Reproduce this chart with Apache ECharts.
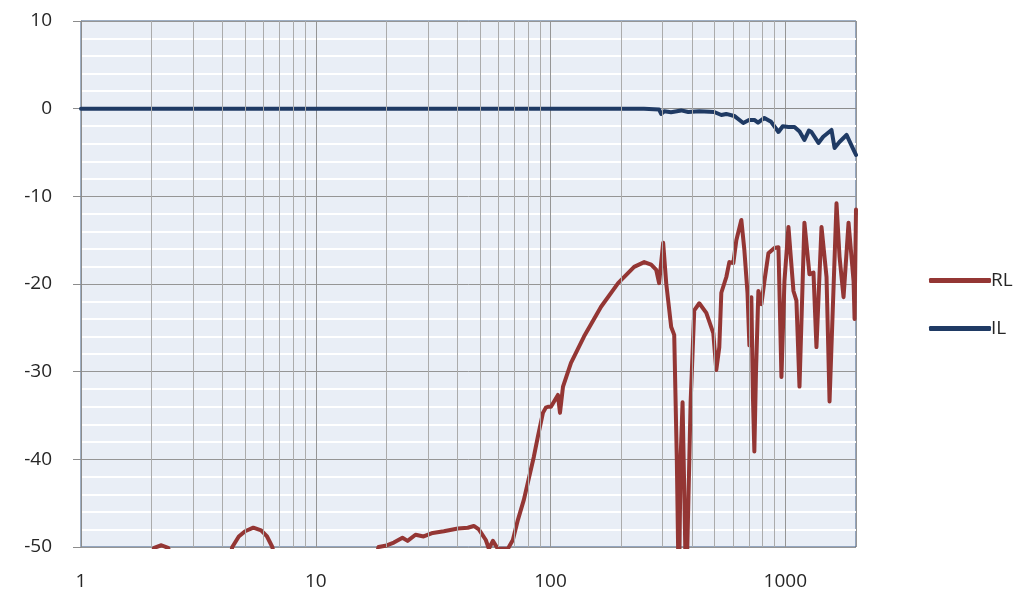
<!DOCTYPE html>
<html>
<head>
<meta charset="utf-8">
<script src="https://cdn.jsdelivr.net/npm/echarts@6/dist/echarts.min.js"></script>
<style>
html,body{margin:0;padding:0;background:#fff;}
#chart{width:1023px;height:598px;}
</style>
</head>
<body>
<div id="chart"></div>
<script>
// Frequency (Hz) and level (dB)
var rlFreq = [1, 1.7, 1.95, 2.05, 2.2, 2.35, 2.45, 2.8, 3.6, 4.1, 4.41, 4.7, 5.0, 5.42, 5.85, 6.2, 6.53, 7.0, 8.5, 14, 17.5,
  18.5, 19.8, 21.5, 23.4, 24.6, 26.6, 28.8, 31.5, 35.1, 40.3, 44.4, 47.1, 49.5, 53.0, 54.6, 56.8, 59.6, 65.8, 69.1, 72.6,
  77.0, 84.9, 88.3, 92.8, 95.5, 97.5, 100.4, 107.5, 109.7, 113, 122.2, 138.8, 164.1, 194, 227, 250.6, 268.3, 282, 290,
  301.8, 310.9, 326.5, 336.3, 345, 352, 358, 365, 372, 378, 384, 390, 395, 409.3, 430, 460.7, 493.4, 508.1, 523.3, 533.8,
  560.7, 577.5, 600.6, 618.5, 649.6, 669, 690, 703, 716.6, 728, 738, 750, 767.8, 790.7, 814.4, 847.2, 898.6, 934.8, 962.6,
  991.3, 1031, 1083, 1115, 1149, 1206, 1267, 1318, 1357, 1426, 1498, 1543, 1652, 1702, 1770, 1859, 1953, 1972, 2000];
var rlDb = [-60, -58, -51.5, -50.1, -49.8, -50.1, -51.5, -58, -60, -54, -50, -48.8, -48.2, -47.8, -48.1, -48.8, -50, -54, -60, -60, -53,
  -50, -49.86, -49.5, -48.95, -49.3, -48.6, -48.8, -48.4, -48.2, -47.9, -47.8, -47.6, -48.0, -49.2, -50.2, -49.3, -50.2, -50.2, -49.2, -46.9,
  -44.6, -39.7, -37.4, -34.7, -34.1, -34.0, -34.0, -32.65, -34.7, -31.7, -29.0, -26.0, -22.6, -19.9, -18.05, -17.5, -17.8, -18.4, -19.9,
  -15.3, -19.9, -24.9, -25.8, -40, -56, -40, -33.5, -45, -56, -56, -40, -33.5, -23.0, -22.2, -23.3, -25.6, -29.8, -27.2, -21.0,
  -19.2, -17.5, -17.6, -15.0, -12.7, -16.1, -21, -27, -21.5, -33, -39.1, -30, -20.8, -22.3, -19.7, -16.5, -15.9, -15.8, -30.6,
  -19.7, -13.5, -20.8, -21.9, -31.7, -13.0, -18.9, -18.7, -27.2, -13.5, -19.2, -33.4, -10.8, -16.9, -21.5, -13.0, -19.7, -24, -11.5];

var ilFreq = [1, 10, 100, 250, 290, 296, 305, 326, 360, 386, 430, 498, 534, 560, 606, 662, 700, 738, 765, 814, 870, 935, 975,
  1031, 1094, 1150, 1206, 1260, 1292, 1384, 1450, 1573, 1621, 1700, 1823, 1953, 2000];
var ilDb = [0, 0, 0, 0, -0.1, -0.6, -0.3, -0.4, -0.2, -0.38, -0.3, -0.38, -0.72, -0.6, -0.83, -1.63, -1.3, -1.29, -1.6, -1.06, -1.5, -2.66, -2.0,
  -2.09, -2.09, -2.6, -3.57, -2.5, -2.66, -3.91, -3.2, -2.43, -4.48, -3.8, -3.0, -4.71, -5.28];

// minor vertical grid lines of the log axis (2..9 in each decade)
var minorFreqs = [2, 3, 4, 5, 6, 7, 8, 9, 20, 30, 40, 50, 60, 70, 80, 90, 200, 300, 400, 500, 600, 700, 800, 900];
var xTickLabels = ['1', '10', '100', '1000'];
var seriesNames = ['RL', 'IL'];

function pairs(xs, ys) { return xs.map(function (x, i) { return [x, ys[i]]; }); }

var fontFam = '"Open Sans", "Noto Sans", sans-serif';
var chart = echarts.init(document.getElementById('chart'), null, { renderer: 'canvas' });
chart.setOption({
  animation: false,
  backgroundColor: '#ffffff',
  grid: {
    left: 81, right: 167, top: 21, bottom: 51,
    show: true, backgroundColor: '#E9EEF6', borderColor: '#3C5C86', borderWidth: 1
  },
  legend: {
    orient: 'vertical', left: 924, top: 266,
    itemWidth: 62, itemHeight: 5, itemGap: 29,
    data: seriesNames.map(function (n) { return { name: n, icon: 'roundRect' }; }),
    textStyle: { fontSize: 19, color: '#262626', fontFamily: fontFam, padding: [0, 0, 0, -5] }
  },
  xAxis: {
    type: 'log', logBase: 10, min: 1, max: 2000,
    axisLine: { show: true, lineStyle: { color: '#8C8C8C', width: 1 } },
    axisTick: { show: true, length: 10, lineStyle: { color: '#8C8C8C' } },
    axisLabel: {
      fontSize: 19, color: '#262626', fontFamily: fontFam, margin: 25, showMaxLabel: false,
      formatter: function (v) { var s = String(Math.round(v)); return xTickLabels.indexOf(s) >= 0 ? s : ''; }
    },
    splitLine: { show: true, lineStyle: { color: '#959595', width: 1 } },
    minorTick: { show: false }, minorSplitLine: { show: false }
  },
  yAxis: {
    type: 'value', min: -50, max: 10, interval: 10,
    axisLine: { show: true, lineStyle: { color: '#8C8C8C', width: 1 } },
    axisTick: { show: true, length: 8, lineStyle: { color: '#8C8C8C' } },
    axisLabel: { fontSize: 19, color: '#262626', fontFamily: fontFam, margin: 29 },
    splitLine: { show: true, lineStyle: { color: '#959595', width: 1 } },
    minorTick: { show: false, splitNumber: 5 },
    minorSplitLine: { show: true, lineStyle: { color: '#FFFFFF', width: 2 } }
  },
  series: [
    {
      name: '_grid', type: 'line', data: [], z: 1, silent: true,
      markLine: {
        silent: true, symbol: ['none', 'none'], label: { show: false },
        lineStyle: { color: '#ABABAB', width: 1, type: 'solid' },
        data: minorFreqs.map(function (f) { return { xAxis: f }; }),
        animation: false
      }
    },
    {
      name: 'RL', type: 'line', data: pairs(rlFreq, rlDb), showSymbol: false, symbol: 'none', z: 3,
      clip: true, color: '#943634',
      lineStyle: { color: '#943634', width: 4, join: 'round', cap: 'round' }
    },
    {
      name: 'IL', type: 'line', data: pairs(ilFreq, ilDb), showSymbol: false, symbol: 'none', z: 4,
      clip: true, color: '#1F3A64',
      lineStyle: { color: '#1F3A64', width: 4, join: 'round', cap: 'round' }
    }
  ]
});
</script>
</body>
</html>
